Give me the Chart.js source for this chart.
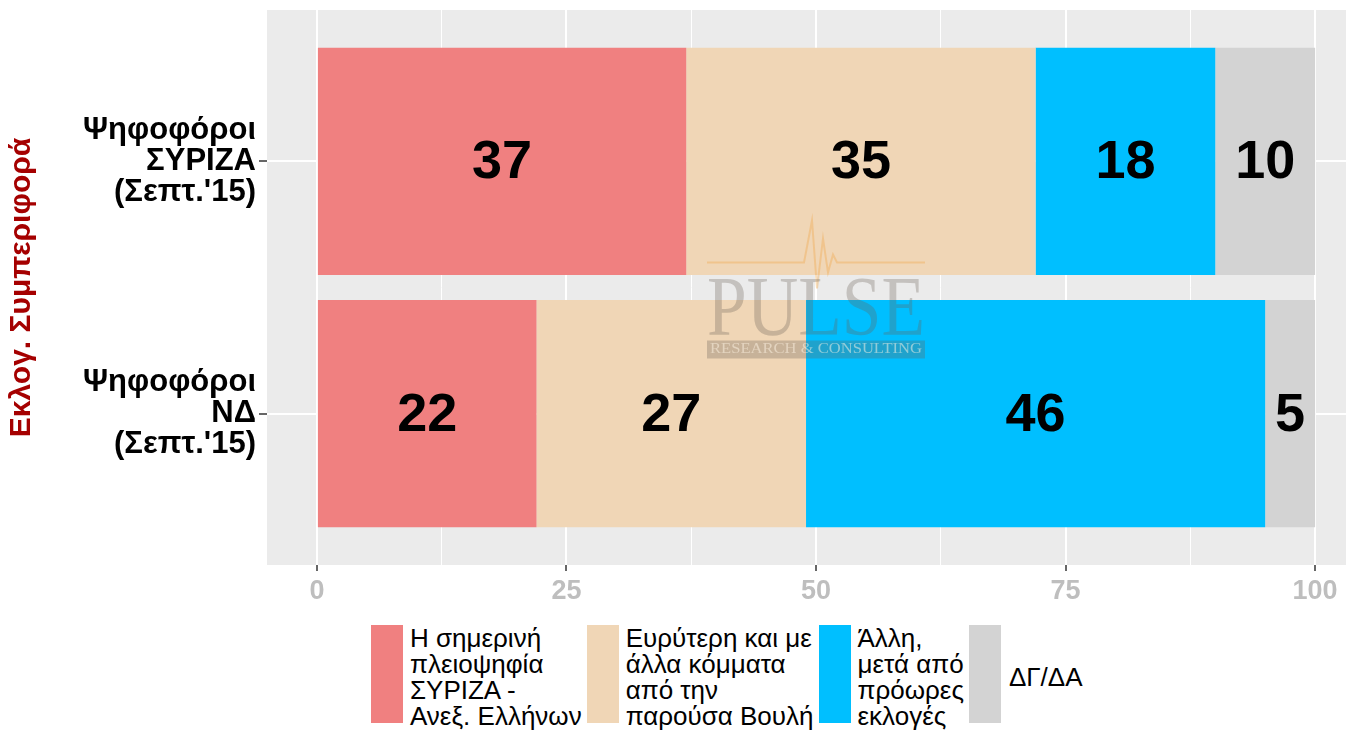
<!DOCTYPE html>
<html>
<head>
<meta charset="utf-8">
<script src="https://cdn.jsdelivr.net/npm/chart.js@4"></script>
<style>
  body { margin: 0; background: #fff; overflow: hidden; font-family: 'Liberation Sans', Arial, sans-serif; }
  #wrap { position: relative; width: 1346px; height: 730px; overflow: hidden; }
  #chart { position: absolute; left: 0; top: 0; }
  #legend { position: absolute; left: 371px; top: 625px; display: flex; gap: 5px; }
  .item { display: flex; align-items: flex-start; }
  .key { width: 32px; height: 98px; flex: none; }
  .lbl { margin-left: 7px; font-size: 26px; line-height: 26px; color: #000; white-space: nowrap; }
  .lbl.mid { align-self: center; margin-left: 8px; }
</style>
</head>
<body>
<div id="wrap">
  <canvas id="chart" width="1366" height="612"></canvas>
  <div id="legend"></div>
</div>
<script>
// categories (top to bottom)
const categories = [
  ['Ψηφοφόροι', 'ΣΥΡΙΖΑ', "(Σεπτ.'15)"],
  ['Ψηφοφόροι', 'ΝΔ', "(Σεπτ.'15)"]
];

// series (share %, one value per category)
const currentMajority = [37, 22];
const widerCoalition = [35, 27];
const earlyElections = [18, 46];
const dontKnow = [10, 5];

const seriesLabels = [
  ['Η σημερινή', 'πλειοψηφία', 'ΣΥΡΙΖΑ -', 'Ανεξ. Ελλήνων'],
  ['Ευρύτερη και με', 'άλλα κόμματα', 'από την', 'παρούσα Βουλή'],
  ['Άλλη,', 'μετά από', 'πρόωρες', 'εκλογές'],
  ['ΔΓ/ΔΑ']
];
const seriesColors = ['#F08080', '#F0D6B6', '#00BFFF', '#D3D3D3'];

const xTickLabels = [0, 25, 50, 75, 100];
const xMinorTicks = [12.5, 37.5, 62.5, 87.5];
const yTitle = 'Εκλογ. Συμπεριφορά';

Chart.defaults.font.family = "'Liberation Sans', Arial, sans-serif";

const seriesValues = [currentMajority, widerCoalition, earlyElections, dontKnow];
const datasets = seriesValues.map((vals, i) => ({
  label: seriesLabels[i].join(' '),
  data: vals.map((v, j) => ({ x: v, y: j + 1 })),
  backgroundColor: seriesColors[i],
  borderWidth: 0,
  categoryPercentage: 0.9,
  barPercentage: 1.0
}));

const panelBg = {
  id: 'panelBg',
  beforeDraw(chart) {
    const a = chart.chartArea, c = chart.ctx;
    c.save();
    c.fillStyle = '#EBEBEB';
    c.fillRect(a.left, a.top, a.right - a.left, a.bottom - a.top);
    c.restore();
  }
};

const valueLabels = {
  id: 'valueLabels',
  afterDatasetsDraw(chart) {
    const c = chart.ctx;
    c.save();
    c.font = "bold 54px 'Liberation Sans', Arial, sans-serif";
    c.fillStyle = '#000';
    c.textAlign = 'center';
    c.textBaseline = 'middle';
    chart.data.datasets.forEach((ds, i) => {
      chart.getDatasetMeta(i).data.forEach((el, j) => {
        c.fillText(String(ds.data[j].x), (el.x + el.base) / 2, el.y + 2);
      });
    });
    c.restore();
  }
};

const watermark = {
  id: 'watermark',
  afterDatasetsDraw(chart) {
    const a = chart.chartArea, c = chart.ctx;
    const cx = (a.left + a.right) / 2;
    const cy = (a.top + a.bottom) / 2;
    c.save();
    // pulse line
    c.strokeStyle = 'rgba(240,170,80,0.4)';
    c.lineWidth = 2;
    const ly = cy - 25;
    c.beginPath();
    c.moveTo(cx - 109, ly);
    c.lineTo(cx - 12, ly);
    c.lineTo(cx - 4, ly - 42);
    c.lineTo(cx + 1, ly + 26);
    c.lineTo(cx + 7, ly - 24);
    c.lineTo(cx + 12, ly + 10);
    c.lineTo(cx + 17, ly - 8);
    c.lineTo(cx + 21, ly);
    c.lineTo(cx + 109, ly);
    c.stroke();
    // PULSE
    c.fillStyle = 'rgba(105,95,85,0.3)';
    c.font = "84px 'Liberation Serif', serif";
    c.textBaseline = 'alphabetic';
    let w = c.measureText('PULSE').width;
    c.save();
    c.translate(cx - 109, cy + 47);
    c.scale(218 / w, 1);
    c.fillText('PULSE', 0, 0);
    c.restore();
    // band
    c.fillRect(cx - 109, cy + 53, 218, 18);
    c.fillStyle = 'rgba(255,245,230,0.5)';
    c.font = "15px 'Liberation Serif', serif";
    c.textBaseline = 'middle';
    w = c.measureText('RESEARCH & CONSULTING').width;
    c.save();
    c.translate(cx - 106, cy + 62);
    c.scale(212 / w, 1);
    c.fillText('RESEARCH & CONSULTING', 0, 0);
    c.restore();
    c.restore();
  }
};

new Chart(document.getElementById('chart'), {
  type: 'bar',
  data: { datasets },
  options: {
    indexAxis: 'y',
    responsive: false,
    animation: false,
    layout: { padding: { left: 4, top: 10, right: 1, bottom: 0 } },
    plugins: { legend: { display: false }, tooltip: { enabled: false } },
    scales: {
      x: {
        type: 'linear',
        stacked: true,
        min: -5,
        max: 105,
        afterBuildTicks(scale) {
          scale.ticks = xTickLabels.concat(xMinorTicks).sort((p, q) => p - q).map(v => ({ value: v }));
        },
        afterFit(scale) {
          scale.height = 47;
          scale.paddingLeft = 0;
          scale.paddingRight = 0;
        },
        border: { display: false },
        grid: {
          color: '#FFFFFF',
          lineWidth: ctx => (ctx.tick && xTickLabels.includes(ctx.tick.value)) ? 2 : 1,
          tickColor: ctx => (ctx.tick && xTickLabels.includes(ctx.tick.value)) ? '#333333' : 'rgba(0,0,0,0)',
          tickLength: 6,
          tickWidth: 1.5
        },
        ticks: {
          autoSkip: false,
          maxRotation: 0,
          padding: 7,
          color: '#BEBEBE',
          font: { size: 27, weight: 'bold', lineHeight: 1 },
          callback: v => xTickLabels.includes(v) ? String(v) : ''
        }
      },
      y: {
        type: 'linear',
        stacked: true,
        reverse: true,
        offset: false,
        min: 0.4,
        max: 2.6,
        afterBuildTicks(scale) {
          scale.ticks = categories.map((c, i) => ({ value: i + 1 }));
        },
        afterFit(scale) {
          scale.width = 263;
          scale.paddingTop = 0;
          scale.paddingBottom = 0;
        },
        border: { display: false },
        grid: {
          offset: false,
          color: '#FFFFFF',
          lineWidth: 2,
          tickColor: '#333333',
          tickLength: 8,
          tickWidth: 1.5
        },
        ticks: {
          autoSkip: false,
          padding: 3,
          color: '#000000',
          font: { size: 31, weight: 'bold', lineHeight: 1.0 },
          callback: v => categories[Math.round(v) - 1] || ''
        },
        title: {
          display: true,
          text: yTitle,
          color: '#A50000',
          padding: 0,
          font: { size: 30, weight: 'bold' }
        }
      }
    }
  },
  plugins: [panelBg, valueLabels, watermark]
});

// legend with multi-line labels
const legend = document.getElementById('legend');
seriesLabels.forEach((lines, i) => {
  const item = document.createElement('div');
  item.className = 'item';
  const key = document.createElement('div');
  key.className = 'key';
  key.style.background = seriesColors[i];
  const lbl = document.createElement('div');
  lbl.className = 'lbl' + (lines.length === 1 ? ' mid' : '');
  lbl.innerHTML = lines.join('<br>');
  item.appendChild(key);
  item.appendChild(lbl);
  legend.appendChild(item);
});
</script>
</body>
</html>
